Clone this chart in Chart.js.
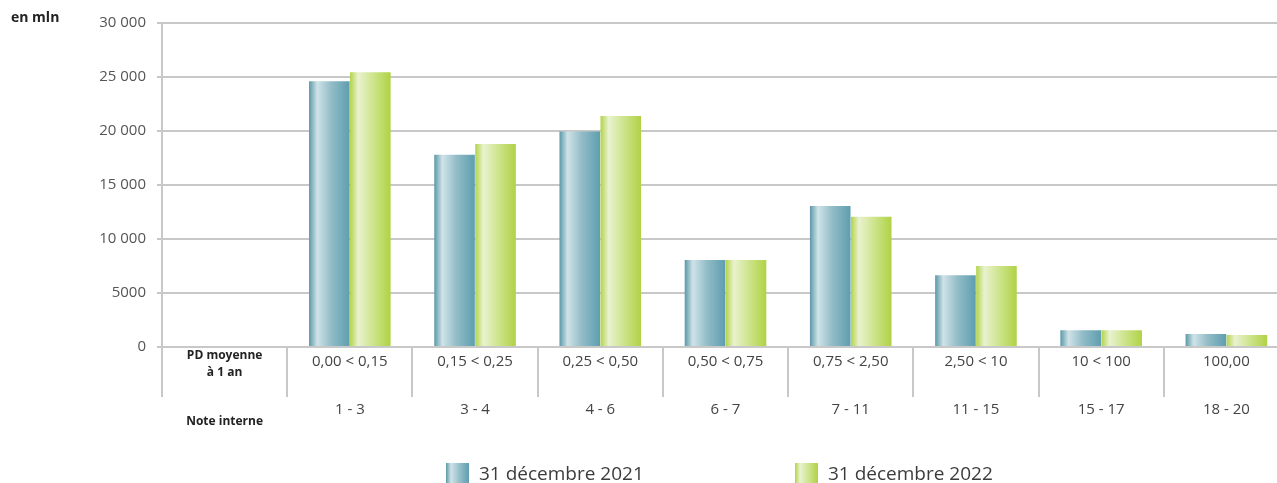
<!DOCTYPE html>
<html lang="fr">
<head>
<meta charset="utf-8">
<script src="https://cdn.jsdelivr.net/npm/chart.js@4.4.1/dist/chart.umd.min.js"></script>
<style>
    html, body { margin: 0; padding: 0; background: #fff; overflow: hidden; }
    #wrap { position: relative; width: 1290px; height: 483px; }
    #unit { position: absolute; left: 11px; top: 7px; font: bold 14px "Open Sans", sans-serif; color: #222; }
    .leg { position: absolute; top: 461px; font: 19px "Open Sans", sans-serif; color: #3c3c3c; line-height: 24px; white-space: nowrap; }
    .leg i { display: inline-block; width: 23px; height: 23px; vertical-align: top; margin-right: 10px; margin-top: 2px; }
    #leg1 { left: 446px; }
    #leg2 { left: 795px; }
    #leg1 i { background: linear-gradient(to right, #5b98a8 0%, #cfe3e8 22%, #93bdc8 60%, #5f9fb0 100%); }
    #leg2 i { background: linear-gradient(to right, #b2d348 0%, #e9f2cf 22%, #cde48e 60%, #b0d245 100%); }
</style>
</head>
<body>
<div id="wrap">
    <canvas id="chart"></canvas>
    <div id="unit">en mln</div>
    <div class="leg" id="leg1"><i></i>31 décembre 2021</div>
    <div class="leg" id="leg2"><i></i>31 décembre 2022</div>
</div>
<script>
// Données
const pdLabels = [['PD moyenne', 'à 1 an'], '0,00 < 0,15', '0,15 < 0,25', '0,25 < 0,50', '0,50 < 0,75', '0,75 < 2,50', '2,50 < 10', '10 < 100', '100,00'];
const noteLabels = ['Note interne', '1 - 3', '3 - 4', '4 - 6', '6 - 7', '7 - 11', '11 - 15', '15 - 17', '18 - 20'];
const values2021 = [null, 24600, 17800, 19950, 8050, 13050, 6650, 1550, 1200];
const values2022 = [null, 25450, 18800, 21400, 8050, 12050, 7500, 1550, 1100];
const yTicks = [0, 5000, 10000, 15000, 20000, 25000, 30000];

const CAT_PCT = 0.655;
const BAR_PCT = 0.99;
const FONT = '"Open Sans", sans-serif';
const GRID = '#c8c8c8';

const tealStops = [[0, '#5b98a8'], [0.2, '#cfe3e8'], [0.55, '#92bcc7'], [1, '#5e9eaf']];
const greenStops = [[0, '#b2d348'], [0.2, '#e9f2cf'], [0.55, '#cfe590'], [1, '#b0d245']];

// Dégradé horizontal propre à chaque barre
function barGradient(c, stops) {
    const chart = c.chart;
    const x = chart.scales.x;
    if (!x || c.dataIndex === undefined || !isFinite(x.width) || !x.width) return stops[0][1];
    const catW = x.width / pdLabels.length;
    const group = catW * CAT_PCT;
    const barW = group / 2 * BAR_PCT;
    const center = x.getPixelForValue(c.dataIndex);
    if (!isFinite(center)) return stops[0][1];
    const left = center - group / 2 + c.datasetIndex * group / 2 + (group / 2 - barW) / 2;
    const g = chart.ctx.createLinearGradient(left, 0, left + barW, 0);
    stops.forEach(s => g.addColorStop(s[0], s[1]));
    return g;
}

function tickFont(c) {
    if (c.index === 0) return { family: FONT, size: 12, weight: 'bold', lineHeight: '17px' };
    return { family: FONT, size: 15, lineHeight: '30px' };
}
function tickColor(c) {
    return c.index === 0 ? '#222' : '#444';
}
function noteFont(c) {
    if (c.index === 0) return { family: FONT, size: 12, weight: 'bold', lineHeight: '54px' };
    return { family: FONT, size: 15, lineHeight: '30px' };
}

function formatTick(v) {
    if (v < 10000) return String(v);
    return String(v).replace(/\B(?=(\d{3})+$)/g, ' ');
}

const ctx = document.getElementById('chart').getContext('2d');
new Chart(ctx, {
    type: 'bar',
    data: {
        labels: pdLabels,
        datasets: [{
            label: '31 décembre 2021',
            data: values2021,
            backgroundColor: c => barGradient(c, tealStops),
            categoryPercentage: CAT_PCT,
            barPercentage: BAR_PCT
        }, {
            label: '31 décembre 2022',
            data: values2022,
            backgroundColor: c => barGradient(c, greenStops),
            categoryPercentage: CAT_PCT,
            barPercentage: BAR_PCT
        }]
    },
    options: {
        responsive: true,
        maintainAspectRatio: false,
        animation: false,
        layout: { padding: { top: 23, bottom: 56, left: 0, right: 1 } },
        plugins: {
            legend: { display: false },
            tooltip: { enabled: false }
        },
        scales: {
            y: {
                min: 0,
                max: 30000,
                afterBuildTicks: s => { s.ticks = yTicks.map(v => ({ value: v })); },
                afterFit: s => { s.width = 162; },
                grid: { color: GRID, lineWidth: 2, tickLength: 5, tickColor: GRID },
                border: { color: GRID, width: 2 },
                ticks: {
                    padding: 11,
                    color: '#555',
                    font: { family: FONT, size: 15 },
                    callback: v => formatTick(v)
                }
            },
            x: {
                offset: true,
                afterFit: s => { s.height = 40; },
                grid: { drawOnChartArea: false, drawTicks: true, tickLength: 50, color: GRID, lineWidth: 2, offset: true },
                border: { color: GRID, width: 2 },
                ticks: {
                    padding: -50,
                    maxRotation: 0,
                    autoSkip: false,
                    color: tickColor,
                    font: tickFont
                }
            },
            x2: {
                type: 'category',
                position: 'bottom',
                weight: 1,
                labels: noteLabels,
                offset: true,
                afterFit: s => { s.height = 40; },
                grid: { display: false },
                border: { display: false },
                ticks: {
                    padding: 0,
                    maxRotation: 0,
                    autoSkip: false,
                    color: tickColor,
                    font: noteFont
                }
            }
        }
    }
});
</script>
</body>
</html>
